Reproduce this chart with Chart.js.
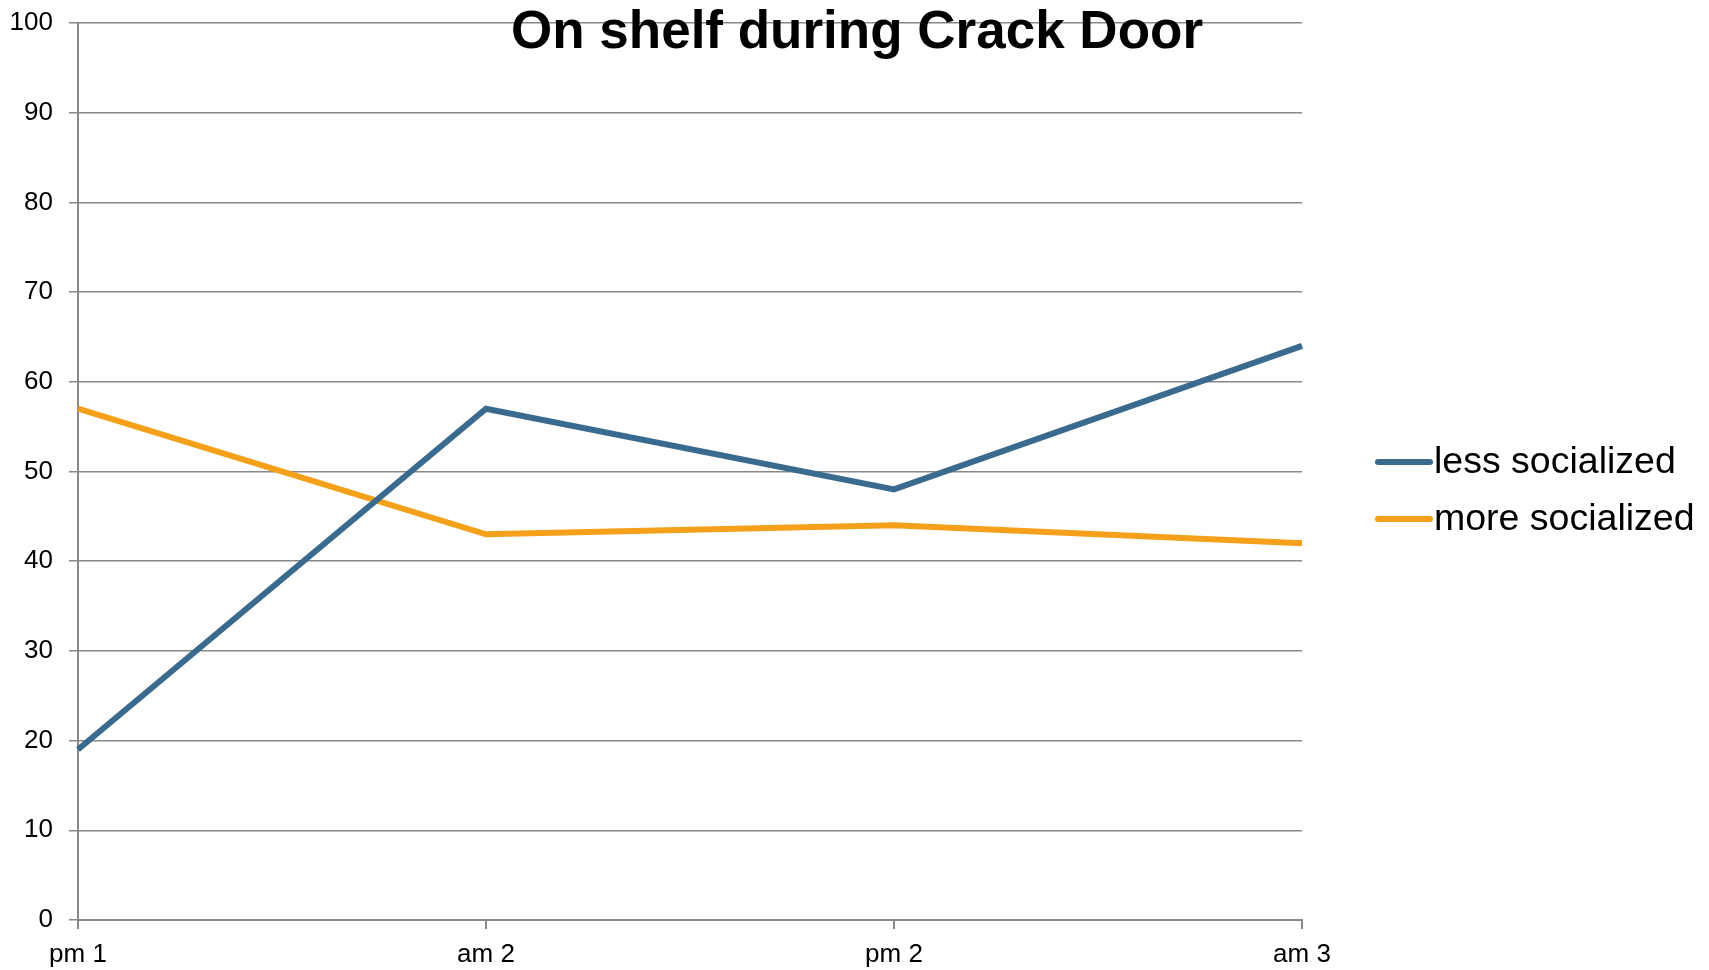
<!DOCTYPE html>
<html>
<head>
<meta charset="utf-8">
<script src="https://cdn.jsdelivr.net/npm/chart.js@4/dist/chart.umd.min.js"></script>
<style>
  html, body { margin: 0; padding: 0; background: #fff; }
  #wrap { width: 1709px; height: 970px; }
</style>
</head>
<body>
<div id="wrap"><canvas id="lineChart"></canvas></div>
<script>
var chartTitle = 'On shelf during Crack Door';
var times = ['pm 1', 'am 2', 'pm 2', 'am 3'];
var lessSocialized = [19, 57, 48, 64];
var moreSocialized = [57, 43, 44, 42];
var seriesNames = ['less socialized', 'more socialized'];
var seriesColors = ['#3A6B8F', '#F5A01B'];

var fontFamily = '"Liberation Sans", Arial, sans-serif';

// title is drawn on top of the plot area, like in the original
var titlePlugin = {
    id: 'overTitle',
    afterDraw: function (chart) {
        var c = chart.ctx;
        c.save();
        c.font = 'bold 53px ' + fontFamily;
        c.fillStyle = '#000';
        c.textAlign = 'center';
        c.textBaseline = 'alphabetic';
        c.fillText(chartTitle, 857, 48);
        c.restore();
    }
};

// legend at the right, line samples + labels
var sideLegend = {
    id: 'sideLegend',
    afterDraw: function (chart) {
        var c = chart.ctx;
        c.save();
        c.font = '37.5px ' + fontFamily;
        c.textBaseline = 'middle';
        c.lineCap = 'round';
        chart.data.datasets.forEach(function (ds, i) {
            var y = 462 + i * 57;
            c.strokeStyle = ds.borderColor;
            c.lineWidth = 6;
            c.beginPath();
            c.moveTo(1378, y);
            c.lineTo(1430, y);
            c.stroke();
            c.fillStyle = '#000';
            c.fillText(ds.label, 1434, y + 1);
        });
        c.restore();
    }
};

var ctx = document.getElementById('lineChart').getContext('2d');

var lineChart = new Chart(ctx, {
    type: 'line',
    data: {
        labels: times,
        datasets: [{
            label: seriesNames[0],
            data: lessSocialized,
            borderColor: seriesColors[0],
            backgroundColor: seriesColors[0],
            borderWidth: 6,
            pointRadius: 0,
            tension: 0
        }, {
            label: seriesNames[1],
            data: moreSocialized,
            borderColor: seriesColors[1],
            backgroundColor: seriesColors[1],
            borderWidth: 6,
            pointRadius: 0,
            tension: 0
        }]
    },
    options: {
        responsive: true,
        maintainAspectRatio: false,
        animation: false,
        layout: { padding: { top: 23, right: 407, left: 0, bottom: 0 } },
        plugins: {
            legend: { display: false },
            title: { display: false },
            tooltip: { enabled: false }
        },
        scales: {
            x: {
                offset: false,
                grid: { drawOnChartArea: false, drawTicks: true, tickLength: 9, color: '#888', lineWidth: 2 },
                border: { color: '#888', width: 2 },
                ticks: { color: '#000', font: { family: fontFamily, size: 26 }, padding: 10, maxRotation: 0 },
                afterFit: function (scale) { scale.height = 50; }
            },
            y: {
                min: 0,
                max: 100,
                ticks: { stepSize: 10, color: '#000', font: { family: fontFamily, size: 26 }, padding: 16 },
                grid: { color: '#888', lineWidth: 1.5, tickLength: 9 },
                border: { color: '#888', width: 2 },
                afterFit: function (scale) {
                    scale.width = 78;
                    scale.paddingTop = 0;
                    scale.paddingBottom = 0;
                }
            }
        }
    },
    plugins: [titlePlugin, sideLegend]
});
</script>
</body>
</html>
